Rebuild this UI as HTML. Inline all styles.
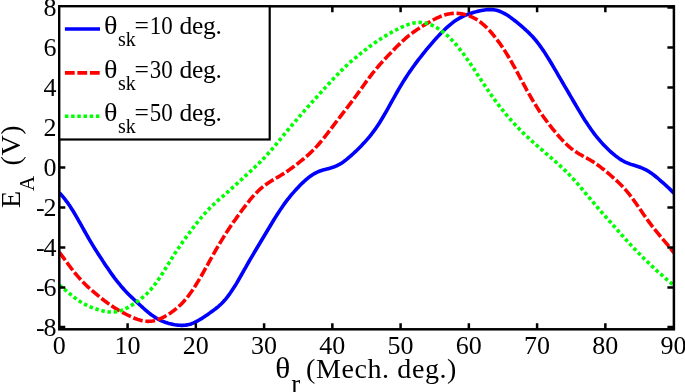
<!DOCTYPE html>
<html><head><meta charset="utf-8">
<style>
html,body{margin:0;padding:0;background:#fff;}
body{width:685px;height:392px;overflow:hidden;position:relative;}
svg{position:absolute;left:0;top:0;will-change:transform;}
text{font-family:"Liberation Serif",serif;fill:#000;}
</style></head><body>
<svg width="685" height="392" viewBox="0 0 685 392" font-family="Liberation Serif">
<defs><clipPath id="c"><rect x="59.3" y="6.3" width="614.6" height="323"/></clipPath></defs>
<g clip-path="url(#c)" fill="none" stroke-width="3.6" stroke-linejoin="round">
<polyline stroke="#0000ff" points="59.4,192.85 60.9,194.46 62.4,196.16 63.9,197.94 65.4,199.83 66.9,201.81 68.4,203.90 69.9,206.10 71.4,208.40 72.9,210.78 74.4,213.26 75.9,215.80 77.4,218.40 78.9,221.04 80.4,223.72 81.9,226.40 83.4,229.08 84.9,231.75 86.4,234.40 87.9,237.01 89.4,239.59 90.9,242.12 92.4,244.62 93.9,247.07 95.4,249.49 96.9,251.87 98.4,254.22 99.9,256.55 101.4,258.85 102.9,261.13 104.4,263.39 105.9,265.63 107.4,267.85 108.9,270.05 110.4,272.21 111.9,274.34 113.4,276.42 114.9,278.46 116.4,280.45 118.0,282.37 119.5,284.24 121.0,286.05 122.5,287.79 124.0,289.47 125.5,291.10 127.0,292.67 128.5,294.20 130.0,295.69 131.5,297.14 133.0,298.57 134.5,299.99 136.0,301.38 137.5,302.77 139.0,304.15 140.5,305.52 142.0,306.88 143.5,308.22 145.0,309.55 146.5,310.84 148.0,312.10 149.5,313.31 151.0,314.48 152.5,315.58 154.0,316.62 155.5,317.60 157.0,318.50 158.5,319.33 160.0,320.09 161.5,320.79 163.0,321.42 164.5,321.99 166.0,322.51 167.5,322.98 169.0,323.40 170.5,323.78 172.0,324.13 173.5,324.44 175.0,324.71 176.6,324.94 178.1,325.12 179.6,325.25 181.1,325.33 182.6,325.33 184.1,325.27 185.6,325.12 187.1,324.89 188.6,324.58 190.1,324.17 191.6,323.67 193.1,323.09 194.6,322.43 196.1,321.69 197.6,320.88 199.1,320.02 200.6,319.11 202.1,318.16 203.6,317.18 205.1,316.18 206.6,315.17 208.1,314.15 209.6,313.11 211.1,312.05 212.6,310.98 214.1,309.87 215.6,308.73 217.1,307.53 218.6,306.27 220.1,304.94 221.6,303.51 223.1,301.98 224.6,300.33 226.1,298.57 227.6,296.69 229.1,294.69 230.6,292.57 232.1,290.34 233.6,288.00 235.2,285.58 236.7,283.08 238.2,280.51 239.7,277.90 241.2,275.26 242.7,272.60 244.2,269.93 245.7,267.27 247.2,264.63 248.7,262.01 250.2,259.41 251.7,256.84 253.2,254.29 254.7,251.77 256.2,249.25 257.7,246.75 259.2,244.26 260.7,241.76 262.2,239.27 263.7,236.77 265.2,234.26 266.7,231.75 268.2,229.24 269.7,226.73 271.2,224.23 272.7,221.75 274.2,219.29 275.7,216.87 277.2,214.49 278.7,212.16 280.2,209.88 281.7,207.66 283.2,205.50 284.7,203.41 286.2,201.38 287.7,199.41 289.2,197.51 290.7,195.66 292.2,193.87 293.8,192.12 295.3,190.43 296.8,188.77 298.3,187.17 299.8,185.61 301.3,184.09 302.8,182.63 304.3,181.22 305.8,179.87 307.3,178.59 308.8,177.38 310.3,176.25 311.8,175.20 313.3,174.25 314.8,173.38 316.3,172.60 317.8,171.90 319.3,171.29 320.8,170.74 322.3,170.26 323.8,169.82 325.3,169.42 326.8,169.03 328.3,168.64 329.8,168.24 331.3,167.81 332.8,167.33 334.3,166.79 335.8,166.18 337.3,165.49 338.8,164.72 340.3,163.87 341.8,162.94 343.3,161.92 344.8,160.82 346.3,159.66 347.8,158.43 349.3,157.15 350.8,155.82 352.4,154.45 353.9,153.05 355.4,151.62 356.9,150.17 358.4,148.69 359.9,147.19 361.4,145.66 362.9,144.10 364.4,142.50 365.9,140.85 367.4,139.15 368.9,137.40 370.4,135.57 371.9,133.67 373.4,131.69 374.9,129.62 376.4,127.47 377.9,125.24 379.4,122.92 380.9,120.52 382.4,118.04 383.9,115.50 385.4,112.91 386.9,110.27 388.4,107.60 389.9,104.90 391.4,102.20 392.9,99.50 394.4,96.81 395.9,94.14 397.4,91.50 398.9,88.91 400.4,86.36 401.9,83.85 403.4,81.40 404.9,79.01 406.4,76.67 407.9,74.38 409.4,72.15 411.0,69.96 412.5,67.83 414.0,65.73 415.5,63.68 417.0,61.67 418.5,59.69 420.0,57.74 421.5,55.83 423.0,53.94 424.5,52.07 426.0,50.23 427.5,48.41 429.0,46.62 430.5,44.85 432.0,43.10 433.5,41.38 435.0,39.68 436.5,38.01 438.0,36.38 439.5,34.77 441.0,33.21 442.5,31.68 444.0,30.20 445.5,28.76 447.0,27.38 448.5,26.05 450.0,24.78 451.5,23.56 453.0,22.41 454.5,21.32 456.0,20.30 457.5,19.34 459.0,18.44 460.5,17.60 462.0,16.83 463.5,16.11 465.0,15.44 466.5,14.82 468.0,14.24 469.6,13.71 471.1,13.20 472.6,12.73 474.1,12.29 475.6,11.88 477.1,11.49 478.6,11.12 480.1,10.79 481.6,10.48 483.1,10.21 484.6,9.97 486.1,9.79 487.6,9.65 489.1,9.58 490.6,9.57 492.1,9.64 493.6,9.78 495.1,10.02 496.6,10.34 498.1,10.75 499.6,11.26 501.1,11.86 502.6,12.55 504.1,13.32 505.6,14.17 507.1,15.09 508.6,16.07 510.1,17.12 511.6,18.21 513.1,19.34 514.6,20.50 516.1,21.69 517.6,22.91 519.1,24.15 520.6,25.41 522.1,26.70 523.6,28.01 525.1,29.35 526.6,30.73 528.2,32.16 529.7,33.64 531.2,35.19 532.7,36.80 534.2,38.49 535.7,40.25 537.2,42.11 538.7,44.04 540.2,46.07 541.7,48.18 543.2,50.36 544.7,52.63 546.2,54.96 547.7,57.35 549.2,59.79 550.7,62.27 552.2,64.79 553.7,67.33 555.2,69.89 556.7,72.45 558.2,75.03 559.7,77.60 561.2,80.17 562.7,82.75 564.2,85.31 565.7,87.88 567.2,90.45 568.7,93.02 570.2,95.58 571.7,98.15 573.2,100.72 574.7,103.28 576.2,105.84 577.7,108.39 579.2,110.92 580.7,113.43 582.2,115.91 583.7,118.35 585.2,120.74 586.8,123.09 588.3,125.37 589.8,127.59 591.3,129.74 592.8,131.82 594.3,133.83 595.8,135.77 597.3,137.63 598.8,139.43 600.3,141.17 601.8,142.84 603.3,144.46 604.8,146.03 606.3,147.55 607.8,149.02 609.3,150.44 610.8,151.82 612.3,153.15 613.8,154.42 615.3,155.64 616.8,156.80 618.3,157.89 619.8,158.92 621.3,159.87 622.8,160.75 624.3,161.55 625.8,162.28 627.3,162.95 628.8,163.55 630.3,164.10 631.8,164.60 633.3,165.08 634.8,165.54 636.3,166.01 637.8,166.49 639.3,167.00 640.8,167.55 642.3,168.16 643.8,168.83 645.4,169.57 646.9,170.39 648.4,171.28 649.9,172.25 651.4,173.29 652.9,174.39 654.4,175.54 655.9,176.74 657.4,177.98 658.9,179.25 660.4,180.55 661.9,181.86 663.4,183.18 664.9,184.52 666.4,185.88 667.9,187.26 669.4,188.66 670.9,190.11 672.4,191.61 673.9,193.17"/>
<polyline stroke="#ff0000" stroke-dasharray="9.8 2.7" points="59.4,252.41 60.9,254.39 62.4,256.39 63.9,258.41 65.4,260.45 66.9,262.48 68.4,264.50 69.9,266.50 71.4,268.48 72.9,270.41 74.4,272.30 75.9,274.14 77.4,275.93 78.9,277.65 80.4,279.32 81.9,280.93 83.4,282.48 84.9,283.98 86.4,285.43 87.9,286.84 89.4,288.21 90.9,289.55 92.4,290.86 93.9,292.15 95.4,293.42 96.9,294.66 98.4,295.89 99.9,297.11 101.4,298.30 102.9,299.48 104.4,300.63 105.9,301.76 107.4,302.87 108.9,303.95 110.4,305.00 111.9,306.03 113.4,307.02 114.9,307.98 116.4,308.92 118.0,309.82 119.5,310.70 121.0,311.56 122.5,312.39 124.0,313.20 125.5,313.99 127.0,314.76 128.5,315.50 130.0,316.22 131.5,316.92 133.0,317.59 134.5,318.22 136.0,318.81 137.5,319.35 139.0,319.85 140.5,320.28 142.0,320.64 143.5,320.93 145.0,321.15 146.5,321.28 148.0,321.33 149.5,321.29 151.0,321.17 152.5,320.96 154.0,320.67 155.5,320.29 157.0,319.84 158.5,319.32 160.0,318.72 161.5,318.06 163.0,317.35 164.5,316.57 166.0,315.74 167.5,314.86 169.0,313.92 170.5,312.93 172.0,311.88 173.5,310.78 175.0,309.61 176.6,308.38 178.1,307.07 179.6,305.69 181.1,304.23 182.6,302.68 184.1,301.04 185.6,299.31 187.1,297.48 188.6,295.56 190.1,293.54 191.6,291.43 193.1,289.24 194.6,286.95 196.1,284.59 197.6,282.15 199.1,279.65 200.6,277.10 202.1,274.50 203.6,271.86 205.1,269.19 206.6,266.50 208.1,263.80 209.6,261.11 211.1,258.42 212.6,255.74 214.1,253.09 215.6,250.47 217.1,247.87 218.6,245.32 220.1,242.80 221.6,240.32 223.1,237.88 224.6,235.49 226.1,233.13 227.6,230.81 229.1,228.53 230.6,226.29 232.1,224.07 233.6,221.88 235.2,219.72 236.7,217.59 238.2,215.48 239.7,213.39 241.2,211.33 242.7,209.30 244.2,207.30 245.7,205.33 247.2,203.41 248.7,201.52 250.2,199.69 251.7,197.91 253.2,196.19 254.7,194.54 256.2,192.95 257.7,191.45 259.2,190.01 260.7,188.66 262.2,187.38 263.7,186.17 265.2,185.04 266.7,183.96 268.2,182.94 269.7,181.98 271.2,181.04 272.7,180.14 274.2,179.26 275.7,178.39 277.2,177.52 278.7,176.64 280.2,175.74 281.7,174.83 283.2,173.89 284.7,172.93 286.2,171.93 287.7,170.91 289.2,169.87 290.7,168.79 292.2,167.69 293.8,166.58 295.3,165.44 296.8,164.28 298.3,163.11 299.8,161.93 301.3,160.72 302.8,159.49 304.3,158.24 305.8,156.97 307.3,155.66 308.8,154.31 310.3,152.92 311.8,151.49 313.3,150.00 314.8,148.46 316.3,146.86 317.8,145.21 319.3,143.50 320.8,141.74 322.3,139.92 323.8,138.07 325.3,136.17 326.8,134.24 328.3,132.29 329.8,130.33 331.3,128.35 332.8,126.37 334.3,124.40 335.8,122.42 337.3,120.46 338.8,118.51 340.3,116.56 341.8,114.62 343.3,112.68 344.8,110.74 346.3,108.79 347.8,106.84 349.3,104.87 350.8,102.88 352.4,100.87 353.9,98.85 355.4,96.80 356.9,94.73 358.4,92.64 359.9,90.55 361.4,88.44 362.9,86.34 364.4,84.25 365.9,82.17 367.4,80.11 368.9,78.09 370.4,76.10 371.9,74.15 373.4,72.24 374.9,70.38 376.4,68.56 377.9,66.79 379.4,65.05 380.9,63.36 382.4,61.70 383.9,60.07 385.4,58.46 386.9,56.87 388.4,55.29 389.9,53.73 391.4,52.18 392.9,50.65 394.4,49.12 395.9,47.60 397.4,46.10 398.9,44.62 400.4,43.17 401.9,41.74 403.4,40.34 404.9,38.98 406.4,37.66 407.9,36.39 409.4,35.15 411.0,33.97 412.5,32.82 414.0,31.72 415.5,30.66 417.0,29.63 418.5,28.64 420.0,27.67 421.5,26.72 423.0,25.80 424.5,24.89 426.0,24.00 427.5,23.12 429.0,22.26 430.5,21.41 432.0,20.58 433.5,19.77 435.0,18.98 436.5,18.23 438.0,17.52 439.5,16.84 441.0,16.22 442.5,15.65 444.0,15.13 445.5,14.68 447.0,14.29 448.5,13.96 450.0,13.70 451.5,13.50 453.0,13.37 454.5,13.31 456.0,13.30 457.5,13.36 459.0,13.48 460.5,13.66 462.0,13.89 463.5,14.19 465.0,14.54 466.5,14.96 468.0,15.43 469.6,15.98 471.1,16.59 472.6,17.27 474.1,18.03 475.6,18.87 477.1,19.78 478.6,20.78 480.1,21.86 481.6,23.03 483.1,24.28 484.6,25.61 486.1,27.03 487.6,28.53 489.1,30.10 490.6,31.75 492.1,33.48 493.6,35.28 495.1,37.15 496.6,39.08 498.1,41.09 499.6,43.16 501.1,45.31 502.6,47.51 504.1,49.79 505.6,52.13 507.1,54.53 508.6,57.00 510.1,59.54 511.6,62.13 513.1,64.77 514.6,67.46 516.1,70.20 517.6,72.97 519.1,75.76 520.6,78.57 522.1,81.38 523.6,84.18 525.1,86.97 526.6,89.73 528.2,92.45 529.7,95.12 531.2,97.74 532.7,100.30 534.2,102.80 535.7,105.23 537.2,107.60 538.7,109.90 540.2,112.13 541.7,114.31 543.2,116.44 544.7,118.51 546.2,120.54 547.7,122.53 549.2,124.48 550.7,126.40 552.2,128.29 553.7,130.15 555.2,131.97 556.7,133.77 558.2,135.52 559.7,137.24 561.2,138.91 562.7,140.52 564.2,142.08 565.7,143.57 567.2,145.00 568.7,146.36 570.2,147.64 571.7,148.85 573.2,149.99 574.7,151.06 576.2,152.06 577.7,153.02 579.2,153.92 580.7,154.79 582.2,155.63 583.7,156.46 585.2,157.28 586.8,158.11 588.3,158.95 589.8,159.81 591.3,160.71 592.8,161.64 594.3,162.61 595.8,163.62 597.3,164.67 598.8,165.76 600.3,166.89 601.8,168.05 603.3,169.24 604.8,170.45 606.3,171.69 607.8,172.95 609.3,174.22 610.8,175.51 612.3,176.82 613.8,178.16 615.3,179.51 616.8,180.90 618.3,182.31 619.8,183.77 621.3,185.28 622.8,186.84 624.3,188.47 625.8,190.15 627.3,191.91 628.8,193.73 630.3,195.62 631.8,197.58 633.3,199.60 634.8,201.68 636.3,203.80 637.8,205.96 639.3,208.14 640.8,210.33 642.3,212.53 643.8,214.71 645.4,216.87 646.9,219.00 648.4,221.09 649.9,223.14 651.4,225.14 652.9,227.09 654.4,228.99 655.9,230.85 657.4,232.68 658.9,234.48 660.4,236.26 661.9,238.03 663.4,239.80 664.9,241.58 666.4,243.37 667.9,245.20 669.4,247.05 670.9,248.93 672.4,250.85 673.9,252.81"/>
<polyline stroke="#00ff00" stroke-dasharray="3.5 2.7" points="59.4,285.18 60.9,286.44 62.4,287.71 63.9,288.98 65.4,290.24 66.9,291.50 68.4,292.74 69.9,293.98 71.4,295.19 72.9,296.37 74.4,297.52 75.9,298.64 77.4,299.71 78.9,300.73 80.4,301.71 81.9,302.63 83.4,303.50 84.9,304.32 86.4,305.08 87.9,305.80 89.4,306.48 90.9,307.11 92.4,307.70 93.9,308.26 95.4,308.79 96.9,309.28 98.4,309.75 99.9,310.19 101.4,310.59 102.9,310.96 104.4,311.29 105.9,311.57 107.4,311.79 108.9,311.96 110.4,312.06 111.9,312.09 113.4,312.04 114.9,311.91 116.4,311.70 118.0,311.39 119.5,311.01 121.0,310.54 122.5,309.99 124.0,309.36 125.5,308.67 127.0,307.91 128.5,307.10 130.0,306.25 131.5,305.34 133.0,304.40 134.5,303.42 136.0,302.41 137.5,301.35 139.0,300.26 140.5,299.12 142.0,297.93 143.5,296.67 145.0,295.35 146.5,293.95 148.0,292.47 149.5,290.90 151.0,289.23 152.5,287.47 154.0,285.60 155.5,283.63 157.0,281.57 158.5,279.42 160.0,277.20 161.5,274.90 163.0,272.54 164.5,270.15 166.0,267.72 167.5,265.28 169.0,262.84 170.5,260.40 172.0,257.99 173.5,255.60 175.0,253.25 176.6,250.94 178.1,248.67 179.6,246.44 181.1,244.25 182.6,242.10 184.1,239.98 185.6,237.90 187.1,235.85 188.6,233.81 190.1,231.80 191.6,229.82 193.1,227.85 194.6,225.90 196.1,223.98 197.6,222.08 199.1,220.22 200.6,218.39 202.1,216.59 203.6,214.85 205.1,213.14 206.6,211.49 208.1,209.89 209.6,208.34 211.1,206.84 212.6,205.38 214.1,203.97 215.6,202.59 217.1,201.24 218.6,199.92 220.1,198.61 221.6,197.32 223.1,196.02 224.6,194.73 226.1,193.42 227.6,192.11 229.1,190.78 230.6,189.43 232.1,188.07 233.6,186.70 235.2,185.32 236.7,183.93 238.2,182.54 239.7,181.14 241.2,179.75 242.7,178.36 244.2,176.97 245.7,175.59 247.2,174.21 248.7,172.84 250.2,171.46 251.7,170.08 253.2,168.70 254.7,167.30 256.2,165.89 257.7,164.45 259.2,162.99 260.7,161.50 262.2,159.98 263.7,158.42 265.2,156.83 266.7,155.20 268.2,153.54 269.7,151.85 271.2,150.12 272.7,148.37 274.2,146.59 275.7,144.80 277.2,143.00 278.7,141.18 280.2,139.35 281.7,137.53 283.2,135.70 284.7,133.88 286.2,132.06 287.7,130.25 289.2,128.45 290.7,126.65 292.2,124.86 293.8,123.09 295.3,121.32 296.8,119.56 298.3,117.81 299.8,116.07 301.3,114.34 302.8,112.62 304.3,110.91 305.8,109.21 307.3,107.51 308.8,105.83 310.3,104.15 311.8,102.48 313.3,100.81 314.8,99.16 316.3,97.50 317.8,95.85 319.3,94.20 320.8,92.55 322.3,90.91 323.8,89.26 325.3,87.61 326.8,85.97 328.3,84.33 329.8,82.70 331.3,81.07 332.8,79.46 334.3,77.85 335.8,76.26 337.3,74.69 338.8,73.14 340.3,71.62 341.8,70.12 343.3,68.64 344.8,67.20 346.3,65.78 347.8,64.39 349.3,63.03 350.8,61.70 352.4,60.39 353.9,59.10 355.4,57.83 356.9,56.58 358.4,55.35 359.9,54.13 361.4,52.93 362.9,51.74 364.4,50.56 365.9,49.40 367.4,48.24 368.9,47.11 370.4,45.98 371.9,44.88 373.4,43.79 374.9,42.73 376.4,41.68 377.9,40.66 379.4,39.66 380.9,38.69 382.4,37.73 383.9,36.80 385.4,35.89 386.9,35.00 388.4,34.13 389.9,33.28 391.4,32.44 392.9,31.62 394.4,30.82 395.9,30.03 397.4,29.26 398.9,28.51 400.4,27.78 401.9,27.07 403.4,26.40 404.9,25.76 406.4,25.16 407.9,24.60 409.4,24.10 411.0,23.65 412.5,23.26 414.0,22.95 415.5,22.70 417.0,22.53 418.5,22.43 420.0,22.42 421.5,22.49 423.0,22.64 424.5,22.87 426.0,23.18 427.5,23.58 429.0,24.05 430.5,24.60 432.0,25.23 433.5,25.93 435.0,26.70 436.5,27.54 438.0,28.45 439.5,29.43 441.0,30.47 442.5,31.58 444.0,32.76 445.5,34.00 447.0,35.30 448.5,36.68 450.0,38.12 451.5,39.62 453.0,41.20 454.5,42.84 456.0,44.54 457.5,46.31 459.0,48.15 460.5,50.05 462.0,52.00 463.5,54.01 465.0,56.08 466.5,58.19 468.0,60.35 469.6,62.55 471.1,64.78 472.6,67.03 474.1,69.31 475.6,71.60 477.1,73.91 478.6,76.21 480.1,78.52 481.6,80.81 483.1,83.09 484.6,85.35 486.1,87.59 487.6,89.80 489.1,91.99 490.6,94.14 492.1,96.26 493.6,98.34 495.1,100.39 496.6,102.41 498.1,104.39 499.6,106.34 501.1,108.25 502.6,110.13 504.1,111.98 505.6,113.79 507.1,115.58 508.6,117.34 510.1,119.07 511.6,120.77 513.1,122.44 514.6,124.09 516.1,125.70 517.6,127.29 519.1,128.85 520.6,130.39 522.1,131.90 523.6,133.38 525.1,134.83 526.6,136.27 528.2,137.67 529.7,139.06 531.2,140.43 532.7,141.79 534.2,143.13 535.7,144.46 537.2,145.77 538.7,147.08 540.2,148.39 541.7,149.69 543.2,150.98 544.7,152.28 546.2,153.57 547.7,154.86 549.2,156.16 550.7,157.46 552.2,158.76 553.7,160.08 555.2,161.40 556.7,162.73 558.2,164.07 559.7,165.43 561.2,166.81 562.7,168.21 564.2,169.63 565.7,171.09 567.2,172.57 568.7,174.09 570.2,175.64 571.7,177.23 573.2,178.85 574.7,180.51 576.2,182.21 577.7,183.93 579.2,185.68 580.7,187.45 582.2,189.25 583.7,191.05 585.2,192.87 586.8,194.69 588.3,196.51 589.8,198.33 591.3,200.13 592.8,201.93 594.3,203.71 595.8,205.47 597.3,207.22 598.8,208.96 600.3,210.68 601.8,212.39 603.3,214.10 604.8,215.79 606.3,217.48 607.8,219.17 609.3,220.87 610.8,222.56 612.3,224.25 613.8,225.95 615.3,227.65 616.8,229.35 618.3,231.05 619.8,232.75 621.3,234.45 622.8,236.14 624.3,237.81 625.8,239.48 627.3,241.14 628.8,242.78 630.3,244.40 631.8,246.01 633.3,247.60 634.8,249.17 636.3,250.73 637.8,252.28 639.3,253.81 640.8,255.33 642.3,256.84 643.8,258.34 645.4,259.82 646.9,261.29 648.4,262.76 649.9,264.20 651.4,265.64 652.9,267.06 654.4,268.46 655.9,269.84 657.4,271.21 658.9,272.56 660.4,273.90 661.9,275.22 663.4,276.52 664.9,277.81 666.4,279.09 667.9,280.37 669.4,281.64 670.9,282.90 672.4,284.17 673.9,285.43"/>
</g>
<g fill="none" stroke="#000" stroke-width="2.5">
<rect x="59.3" y="6.3" width="614.6" height="323"/>
<path d="M59.3 7.5h6M59.3 47.5h6M59.3 87.5h6M59.3 127.5h6M59.3 167.5h6M59.3 207.5h6M59.3 247.5h6M59.3 287.5h6M59.3 327h6
M673.9 7.5h-6.5M673.9 47.5h-6.5M673.9 87.5h-6.5M673.9 127.5h-6.5M673.9 167.5h-6.5M673.9 207.5h-6.5M673.9 247.5h-6.5M673.9 287.5h-6.5M673.9 327h-6.5
M127.6 329.3v-6M195.85 329.3v-6M264.1 329.3v-6M332.35 329.3v-6M400.6 329.3v-6M468.85 329.3v-6M537.1 329.3v-6M605.35 329.3v-6
M127.6 6.3v6M195.85 6.3v6M264.1 6.3v6M332.35 6.3v6M400.6 6.3v6M468.85 6.3v6M537.1 6.3v6M605.35 6.3v6"/>
</g>
<rect x="59.3" y="6.3" width="210.4" height="133.2" fill="#fff" stroke="#000" stroke-width="2.2"/>
<g stroke-width="3.6" fill="none">
<path d="M64.9 29H100" stroke="#0000ff"/>
<path d="M64.9 72.9H100" stroke="#ff0000" stroke-dasharray="9.8 2.7"/>
<path d="M64.9 116.3H100" stroke="#00ff00" stroke-dasharray="3.5 2.7"/>
</g>
<g font-size="26" text-anchor="end">
<text x="56.4" y="16.3">8</text>
<text x="56.4" y="56.3">6</text>
<text x="56.4" y="96.3">4</text>
<text x="56.4" y="136.3">2</text>
<text x="56.4" y="176.3">0</text>
<text x="56.4" y="216.3">2</text><text x="44.6" y="216.3">-</text>
<text x="56.4" y="256.3">4</text><text x="44.6" y="256.3">-</text>
<text x="56.4" y="296.3">6</text><text x="44.6" y="296.3">-</text>
<text x="56.4" y="336.3">8</text><text x="44.6" y="336.3">-</text>
</g>
<g font-size="26" text-anchor="middle">
<text x="59.35" y="354">0</text>
<text x="127.6" y="354">10</text>
<text x="195.85" y="354">20</text>
<text x="264.1" y="354">30</text>
<text x="332.35" y="354">40</text>
<text x="400.6" y="354">50</text>
<text x="468.85" y="354">60</text>
<text x="537.1" y="354">70</text>
<text x="605.35" y="354">80</text>
<text x="673.6" y="354">90</text>
</g>
<g font-size="25.5">
<text transform="translate(104,34) scale(1.08,1)" font-size="26">θ</text><text x="118" y="46" font-size="20">sk</text><text x="134.6" y="34">=</text><text transform="translate(149.8,34) scale(0.9,1)">10</text><text x="179.5" y="34" letter-spacing="-0.3">deg.</text>
<text transform="translate(104,77.7) scale(1.08,1)" font-size="26">θ</text><text x="118" y="89.7" font-size="20">sk</text><text x="134.6" y="77.7">=</text><text transform="translate(149.8,77.7) scale(0.9,1)">30</text><text x="179.5" y="77.7" letter-spacing="-0.3">deg.</text>
<text transform="translate(104,121.2) scale(1.08,1)" font-size="26">θ</text><text x="118" y="133.2" font-size="20">sk</text><text x="134.6" y="121.2">=</text><text transform="translate(149.8,121.2) scale(0.9,1)">50</text><text x="179.5" y="121.2" letter-spacing="-0.3">deg.</text>
</g>
<text transform="translate(275.3,378) scale(1.1,1)" font-size="28.5">θ</text>
<text x="291.2" y="392.6" font-size="27">r</text>
<text x="306" y="378" font-size="28" letter-spacing="0.6">(Mech. deg.)</text>
<g font-size="28" transform="translate(20,208) rotate(-90)">
<text x="0" y="0">E</text><text x="17" y="14" font-size="21">A</text><text x="42.5" y="0" letter-spacing="0.6">(V)</text>
</g>
</svg>
</body></html>
